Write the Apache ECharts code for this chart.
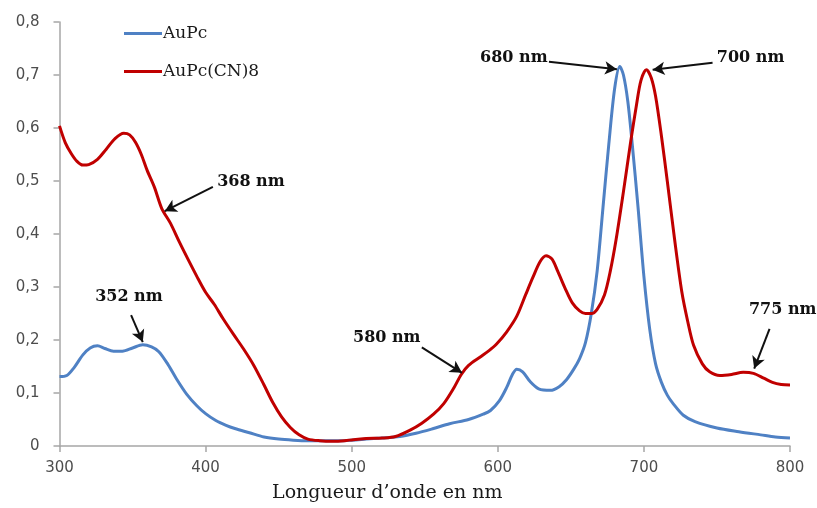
<!DOCTYPE html>
<html>
<head>
<meta charset="utf-8">
<script src="https://cdn.jsdelivr.net/npm/echarts@6/dist/echarts.min.js"></script>
<style>html,body{margin:0;padding:0;background:#fff}#c{width:817px;height:508px}</style>
</head>
<body>
<div id="c"></div>
<script>
const seriesNames = ['AuPc', 'AuPc(CN)8'];
const xTicks = [300, 400, 500, 600, 700, 800];
const yTicks = [0, 0.1, 0.2, 0.3, 0.4, 0.5, 0.6, 0.7, 0.8];

const aupcX = [300,305,310,316,321,326,331,337,343,350,357,363,368,374,380,387,394,400,407,414,420,430,440,450,460,470,480,490,500,510,520,533,544,556,567,580,590,595,601,606,610,613,617,622,628,636,642,647,652,656,660,664,668,672,676,680,683.5,686,689,692,696,700,704,708,712,716,720,727,735,750,765,780,790,800];
const aupcY = [0.131,0.133,0.148,0.172,0.185,0.189,0.184,0.179,0.179,0.185,0.191,0.187,0.178,0.155,0.127,0.098,0.076,0.061,0.048,0.039,0.033,0.025,0.017,0.013,0.011,0.01,0.01,0.01,0.011,0.013,0.015,0.018,0.024,0.033,0.042,0.05,0.06,0.067,0.085,0.11,0.135,0.145,0.14,0.122,0.108,0.105,0.112,0.125,0.145,0.165,0.195,0.25,0.33,0.45,0.57,0.675,0.716,0.7,0.65,0.57,0.45,0.32,0.22,0.155,0.12,0.096,0.08,0.058,0.046,0.034,0.027,0.021,0.017,0.015];

const cnX = [300,304,308,312,316,320,326,332,338,344,348,352,356,360,365,370,376,382,388,394,400,406,412,419,426,433,440,446,452,458,464,470,478,487,495,501,510,521,530,540,548,556,563,570,575,580,588,594,599,606,613,619,624,629,633,637,641,646,651,656,660,664,668,673,677,681,686,691,695,698,701.7,705,708,712,716,721,726,730,734,740,745,752,760,768,775,782,788,794,800];
const cnY = [0.604,0.572,0.552,0.537,0.53,0.531,0.541,0.56,0.58,0.59,0.587,0.573,0.55,0.52,0.488,0.448,0.42,0.385,0.352,0.32,0.29,0.267,0.24,0.211,0.183,0.152,0.115,0.082,0.055,0.035,0.021,0.013,0.01,0.009,0.01,0.012,0.014,0.015,0.018,0.03,0.043,0.06,0.08,0.11,0.135,0.152,0.168,0.18,0.192,0.215,0.245,0.285,0.318,0.348,0.359,0.353,0.33,0.298,0.27,0.255,0.25,0.25,0.258,0.285,0.33,0.39,0.48,0.575,0.645,0.69,0.71,0.695,0.66,0.585,0.5,0.39,0.29,0.235,0.19,0.155,0.14,0.133,0.135,0.139,0.137,0.128,0.12,0.116,0.115];

const annotLabels = ['680 nm', '700 nm', '368 nm', '352 nm', '580 nm', '775 nm'];

// annotation layout (in data space): text anchor, arrow start, arrow tip
const annotLayout = [
  {text:[611,0.733], from:[635,0.725], to:[681.5,0.711]},
  {text:[773,0.733], from:[747,0.723], to:[706,0.71]},
  {text:[431,0.499], from:[405,0.489], to:[372,0.443]},
  {text:[347.5,0.281], from:[349,0.247], to:[357,0.196]},
  {text:[524,0.205], from:[548,0.186], to:[575.5,0.138]},
  {text:[795,0.256], from:[786,0.221], to:[775.5,0.146]}
];

const zip = (xs, ys) => xs.map((x, i) => [x, ys[i]]);
const fmt = v => String(Math.round(v * 10) / 10).replace('.', ',');

const chart = echarts.init(document.getElementById('c'), null, {renderer: 'canvas'});
const axisColor = '#a6a6a6';
const labelColor = '#4d4d4d';

chart.setOption({
  animation: false,
  backgroundColor: '#ffffff',
  grid: {left: 59.5, right: 27, top: 22, bottom: 59, containLabel: false},
  legend: {
    orient: 'vertical', left: 119, top: 20,
    itemWidth: 38, itemHeight: 3, itemGap: 21,
    icon: 'rect',
    textStyle: {fontFamily: 'DejaVu Serif', fontSize: 17, color: '#1a1a1a', padding: [0,0,0,-4]},
    data: seriesNames
  },
  xAxis: {
    type: 'value', min: xTicks[0], max: xTicks[xTicks.length-1], interval: 100,
    name: 'Longueur d\u2019onde en nm', nameLocation: 'middle', nameGap: 38,
    nameTextStyle: {fontFamily: 'DejaVu Serif', fontSize: 19, color: '#1a1a1a', padding: [0,0,0,-75]},
    axisLine: {show: true, lineStyle: {color: axisColor, width: 1.5}},
    axisTick: {show: true, inside: false, length: 6, lineStyle: {color: axisColor, width: 1.5}},
    axisLabel: {margin: 15, fontFamily: 'DejaVu Sans', fontSize: 15, color: labelColor},
    splitLine: {show: false}
  },
  yAxis: {
    type: 'value', min: yTicks[0], max: yTicks[yTicks.length-1], interval: 0.1,
    axisLine: {show: true, lineStyle: {color: axisColor, width: 1.5}},
    axisTick: {show: true, inside: false, length: 6, lineStyle: {color: axisColor, width: 1.5}},
    axisLabel: {margin: 20, fontFamily: 'DejaVu Sans', fontSize: 15, color: labelColor, formatter: fmt},
    splitLine: {show: false}
  },
  series: [
    {
      name: seriesNames[0], type: 'line', data: zip(aupcX, aupcY),
      smooth: 0.3, showSymbol: false, symbol: 'none',
      lineStyle: {color: '#4f81c4', width: 3}, itemStyle: {color: '#4f81c4'}
    },
    {
      name: seriesNames[1], type: 'line', data: zip(cnX, cnY),
      smooth: 0.3, showSymbol: false, symbol: 'none',
      lineStyle: {color: '#c00000', width: 3}, itemStyle: {color: '#c00000'},
      markLine: {
        silent: true, animation: false,
        symbol: ['none', 'arrow'], symbolSize: [10, 12],
        lineStyle: {color: '#111', width: 2, type: 'solid'},
        label: {show: false},
        data: annotLayout.map(a => [{coord: a.from}, {coord: a.to}])
      },
      markPoint: {
        silent: true, animation: false,
        symbol: 'circle', symbolSize: 1,
        itemStyle: {color: 'rgba(0,0,0,0)'},
        label: {show: true, position: 'inside', fontFamily: 'DejaVu Serif', fontWeight: 'bold', fontSize: 16, color: '#111', formatter: p => p.name},
        data: annotLayout.map((a, i) => ({name: annotLabels[i], coord: a.text}))
      }
    }
  ]
});
</script>
</body>
</html>
